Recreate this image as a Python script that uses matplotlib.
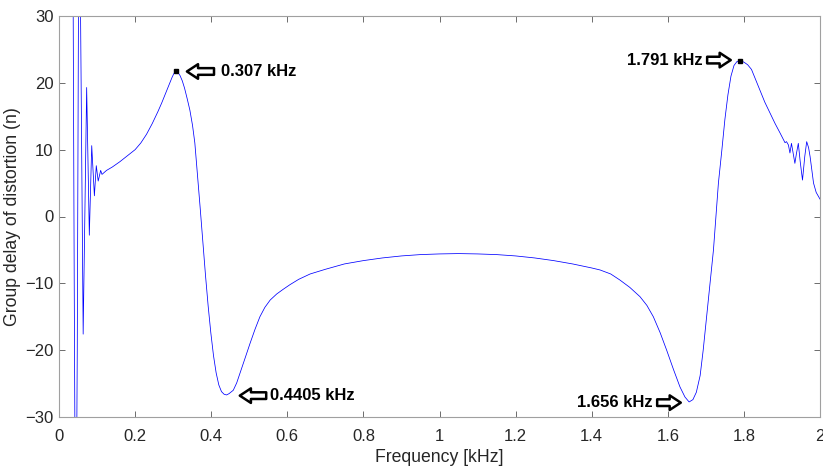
import matplotlib
matplotlib.use("Agg")
import matplotlib.pyplot as plt
from matplotlib.patches import FancyArrowPatch
from matplotlib.transforms import offset_copy

# ---- data (frequency in kHz, group delay in samples) ----
freq_khz = [
    0.0, 0.001, 0.02, 0.036, 0.040, 0.044, 0.048, 0.052, 0.056, 0.0635,
    0.0727, 0.0797, 0.086, 0.093, 0.098, 0.103, 0.1095, 0.113,
    0.125, 0.14, 0.16, 0.18, 0.20, 0.215, 0.23, 0.245, 0.26, 0.27,
    0.28, 0.29, 0.297, 0.302, 0.307, 0.312, 0.318, 0.324, 0.330, 0.337,
    0.344, 0.351, 0.357, 0.364, 0.371, 0.378, 0.385, 0.392, 0.399, 0.406,
    0.413, 0.420, 0.427, 0.434, 0.4405, 0.447, 0.458, 0.467, 0.476, 0.489,
    0.502, 0.515, 0.528, 0.541, 0.555, 0.572, 0.589, 0.607, 0.63, 0.66,
    0.70, 0.75, 0.80, 0.85, 0.90, 0.95, 1.00, 1.05, 1.10, 1.15,
    1.20, 1.25, 1.30, 1.35, 1.40, 1.422, 1.45, 1.474, 1.50, 1.527,
    1.545, 1.562, 1.58, 1.597, 1.615, 1.632, 1.645, 1.656, 1.666, 1.675,
    1.685, 1.693, 1.702, 1.711, 1.720, 1.727, 1.733, 1.742, 1.750, 1.758,
    1.766, 1.774, 1.782, 1.791, 1.80, 1.81, 1.82, 1.83, 1.842, 1.855,
    1.869, 1.882, 1.895, 1.908, 1.912, 1.917, 1.921, 1.925, 1.929, 1.934,
    1.938, 1.943, 1.948, 1.954, 1.960, 1.965, 1.970, 1.974, 1.983, 1.990,
    2.0,
]
group_delay = [
    0.0, 60.0, 90.0, 50.0, -10.0, -60.0, -20.0, 45.0, 35.0, -17.6,
    19.3, -2.8, 10.6, 3.1, 7.6, 5.3, 6.9, 6.3,
    6.9, 7.4, 8.2, 9.1, 10.0, 11.0, 12.3, 13.9, 15.7, 17.0,
    18.4, 19.8, 20.8, 21.4, 21.7, 21.6, 21.1, 20.3, 19.2, 17.6,
    15.9, 13.6, 11.0, 6.2, 1.3, -3.8, -8.8, -13.4, -17.4, -20.8,
    -23.4, -25.2, -26.2, -26.6, -26.7, -26.5, -26.0, -24.9, -23.4, -21.2,
    -19.0, -16.9, -15.0, -13.6, -12.5, -11.6, -10.9, -10.2, -9.4, -8.6,
    -7.9, -7.1, -6.6, -6.2, -5.9, -5.7, -5.6, -5.55, -5.6, -5.7,
    -5.9, -6.2, -6.6, -7.1, -7.7, -8.0, -8.6, -9.5, -10.6, -12.0,
    -13.3, -15.0, -17.4, -20.0, -22.9, -25.5, -27.0, -27.75, -27.4, -26.3,
    -23.8, -20.0, -15.0, -9.9, -5.0, 0.3, 5.0, 9.9, 14.5, 18.2,
    21.0, 22.6, 23.2, 23.3, 23.1, 22.7, 22.0, 20.6, 18.9, 17.1,
    15.45, 13.9, 12.5, 11.05, 11.2, 10.7, 9.5, 10.95, 9.6, 7.95,
    9.4, 10.95, 8.2, 5.45, 9.0, 11.2, 10.3, 8.95, 5.0, 3.6,
    2.6,
]

peak_freqs = [0.307, 1.791]
peak_values = [21.7, 23.3]
valley_freqs = [0.4405, 1.656]
valley_values = [-26.7, -27.75]
peak_labels = ["0.307 kHz", "1.791 kHz"]
valley_labels = ["0.4405 kHz", "1.656 kHz"]

x_ticks = [0, 0.2, 0.4, 0.6, 0.8, 1.0, 1.2, 1.4, 1.6, 1.8, 2.0]
x_tick_labels = ["0", "0.2", "0.4", "0.6", "0.8", "1", "1.2", "1.4", "1.6", "1.8", "2"]
y_ticks = [-30, -20, -10, 0, 10, 20, 30]

plt.rcParams['font.family'] = ['Liberation Sans', 'DejaVu Sans']

fig = plt.figure(figsize=(8.23, 4.71), dpi=100)
ax = fig.add_axes([59 / 823, 54 / 471, 761 / 823, 401 / 471])

ax.plot(freq_khz, group_delay, color='#0000ff', lw=0.55)
ax.plot(peak_freqs, peak_values, ls='none', marker='s', ms=3.2, color='black')

ax.set_xlim(0, 2)
ax.set_ylim(-30, 30)
ax.set_xticks(x_ticks)
ax.set_xticklabels(x_tick_labels)
ax.set_yticks(y_ticks)

edge = '#a0a0a0'
for s in ax.spines.values():
    s.set_color(edge)
    s.set_linewidth(0.8)
ax.tick_params(direction='in', length=4, width=0.6, color='#555555',
               top=True, right=True, labelsize=12, labelcolor='#262626')
ax.tick_params(axis='x', pad=8.5)
ax.tick_params(axis='y', pad=4)

ax.set_xlabel('Frequency [kHz]', fontsize=12.7, color='#262626', labelpad=4)
ax.set_ylabel('Group delay of distortion (n)', fontsize=12.7, color='#262626', labelpad=3)

arrow_style = 'simple,head_length=0.8,head_width=1.05,tail_width=0.48'


def arrow(xd, yd, side, tip, tail, dy=0):
    t_tip = offset_copy(ax.transData, fig=fig, x=side * tip, y=dy, units='points')
    t_tail = offset_copy(ax.transData, fig=fig, x=side * tail, y=dy, units='points')
    p_tip = t_tip.transform((xd, yd))
    p_tail = t_tail.transform((xd, yd))
    a = FancyArrowPatch(posA=p_tail, posB=p_tip, transform=None,
                        arrowstyle=arrow_style, mutation_scale=10,
                        fc='white', ec='black', lw=1.8, shrinkA=0, shrinkB=0)
    a.set_transform(None)
    fig.patches.append(a)


def label(xd, yd, text, side, txt, dy=0):
    ax.annotate(text, xy=(xd, yd), xycoords='data',
                xytext=(side * txt, dy), textcoords='offset points',
                ha='left' if side > 0 else 'right', va='center',
                fontsize=12, fontweight='bold', color='black')


fig.canvas.draw()
arrow(peak_freqs[0], peak_values[0], +1, 8, 27.5)
label(peak_freqs[0], peak_values[0], peak_labels[0], +1, 32.5)
arrow(valley_freqs[0], valley_values[0], +1, 9.5, 28.5, dy=-0.5)
label(valley_freqs[0], valley_values[0], valley_labels[0], +1, 31.5, dy=-0.5)
arrow(valley_freqs[1], valley_values[1], -1, 6, 23, dy=-0.5)
label(valley_freqs[1], valley_values[1], valley_labels[1], -1, 26.5, dy=-0.5)
arrow(peak_freqs[1], peak_values[1], -1, 7, 24, dy=0.5)
label(peak_freqs[1], peak_values[1], peak_labels[1], -1, 27, dy=0.5)

fig.savefig('out.png', dpi=100)
